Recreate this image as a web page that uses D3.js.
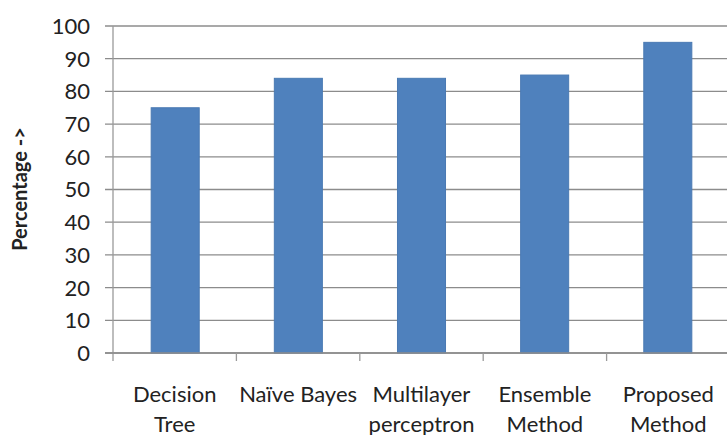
<!DOCTYPE html>
<html>
<head>
<meta charset="utf-8">
<script src="https://cdn.jsdelivr.net/npm/d3@7"></script>
<style>
  html, body { margin: 0; padding: 0; background: #fff; }
  svg { display: block; }
</style>
</head>
<body>
<svg id="chart" width="727" height="435"></svg>
<script>
// Accuracy of each classifier (percent)
const categories = [
  ["Decision", "Tree"],
  ["Naïve Bayes"],
  ["Multilayer", "perceptron"],
  ["Ensemble", "Method"],
  ["Proposed", "Method"]
];
const values = [75, 84, 84, 85, 95];
const yTicks = [0, 10, 20, 30, 40, 50, 60, 70, 80, 90, 100];
const yTitle = "Percentage ->";

const svg = d3.select("#chart");
const font = "Lato, 'Open Sans', sans-serif";

const plotLeft = 113, plotRight = 730, plotTop = 26, plotBottom = 353;

const x = d3.scaleBand()
  .domain(d3.range(categories.length))
  .range([plotLeft, plotRight])
  .paddingInner(0.61)
  .paddingOuter(0.31);

const xOuter = d3.scaleBand()
  .domain(d3.range(categories.length))
  .range([plotLeft, plotRight]);

const y = d3.scaleLinear().domain([0, 100]).range([plotBottom, plotTop]);

// horizontal gridlines
svg.append("g")
  .selectAll("line")
  .data(yTicks)
  .join("line")
  .attr("x1", plotLeft - 8)
  .attr("x2", 727)
  .attr("y1", d => y(d))
  .attr("y2", d => y(d))
  .attr("stroke", "#8c8c8c")
  .attr("stroke-width", 1.3);

// y tick labels
svg.append("g")
  .selectAll("text")
  .data(yTicks)
  .join("text")
  .attr("x", 90)
  .attr("y", d => y(d))
  .attr("dy", "0.36em")
  .attr("text-anchor", "end")
  .attr("font-family", font)
  .attr("font-size", 22)
  .attr("fill", "#222")
  .text(d => d);

// bars
svg.append("g")
  .selectAll("rect")
  .data(values)
  .join("rect")
  .attr("x", (d, i) => x(i))
  .attr("width", x.bandwidth())
  .attr("y", d => y(d))
  .attr("height", d => y(0) - y(d))
  .attr("fill", "#4f81bd")
  .attr("stroke", "#4a7ab3")
  .attr("stroke-width", 1);

// axis lines
svg.append("line")
  .attr("x1", plotLeft).attr("x2", plotLeft)
  .attr("y1", plotTop).attr("y2", plotBottom + 8)
  .attr("stroke", "#9a9a9a").attr("stroke-width", 1.3);

svg.append("line")
  .attr("x1", plotLeft - 8).attr("x2", 727)
  .attr("y1", plotBottom).attr("y2", plotBottom)
  .attr("stroke", "#8c8c8c").attr("stroke-width", 1.3);

// category separators
svg.append("g")
  .selectAll("line")
  .data(d3.range(1, categories.length))
  .join("line")
  .attr("x1", d => xOuter(d))
  .attr("x2", d => xOuter(d))
  .attr("y1", plotBottom)
  .attr("y2", plotBottom + 8)
  .attr("stroke", "#9a9a9a")
  .attr("stroke-width", 1.3);

// category labels
const labels = svg.append("g")
  .selectAll("text")
  .data(categories)
  .join("text")
  .attr("x", (d, i) => xOuter(i) + xOuter.bandwidth() / 2)
  .attr("y", 402)
  .attr("text-anchor", "middle")
  .attr("font-family", font)
  .attr("font-size", 22)
  .attr("fill", "#222");

labels.selectAll("tspan")
  .data(d => d)
  .join("tspan")
  .attr("x", function () { return this.parentNode.getAttribute("x"); })
  .attr("dy", (d, i) => i === 0 ? 0 : 30)
  .text(d => d);

// y axis title
svg.append("text")
  .attr("transform", `translate(27, 189) rotate(-90)`)
  .attr("text-anchor", "middle")
  .attr("font-family", font)
  .attr("font-size", 20)
  .attr("font-weight", "bold")
  .attr("fill", "#222")
  .text(yTitle);
</script>
</body>
</html>
